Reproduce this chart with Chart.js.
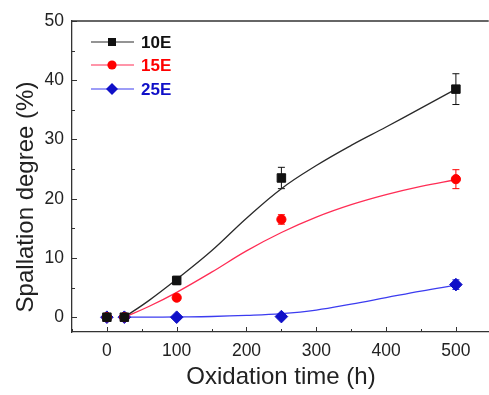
<!DOCTYPE html>
<html>
<head>
<meta charset="utf-8">
<script src="https://cdn.jsdelivr.net/npm/chart.js@4.4.1/dist/chart.umd.min.js"></script>
<style>
html,body{margin:0;padding:0;background:#fff;overflow:hidden;width:489px;height:395px;}
#wrap{position:relative;width:496px;height:395px;}
</style>
</head>
<body>
<div id="wrap"><canvas id="c"></canvas></div>
<script>
// ---- data ----
const times = [0, 25, 100, 250, 500];
const s10E = [0, 0, 6.2, 23.5, 38.5];
const s15E = [0, 0, 3.3, 16.5, 23.3];
const s25E = [0, 0, 0, 0.1, 5.5];
const err10E = [0, 0, 0.7, 1.8, 2.6];
const err15E = [0, 0, 0.5, 0.8, 1.6];
const err25E = [0, 0, 0.3, 0.3, 0.8];
// fitted curves
const fitTimes = [25, 60, 100, 150, 200, 250, 300, 350, 400, 450, 500];
const fit10E = [0, 2.8, 6.4, 11.2, 16.7, 21.7, 25.6, 29.0, 32.1, 35.3, 38.5];
const fit15E = [0, 1.8, 4.2, 7.6, 11.2, 14.3, 16.9, 19.0, 20.7, 22.1, 23.2];
const fit25E = [0, 0, 0.05, 0.12, 0.3, 0.6, 1.2, 2.2, 3.3, 4.4, 5.4];
const xTicks = [-50, 0, 50, 100, 150, 200, 250, 300, 350, 400, 450, 500];
const yTicks = [0, 5, 10, 15, 20, 25, 30, 35, 40, 45, 50];
const seriesNames = ['10E', '15E', '25E'];
const xTitle = 'Oxidation time (h)';
const yTitle = 'Spallation degree (%)';

const colPt = ['#111111', '#ff0000', '#1010c8'];
const colLine = ['#2a2a2a', '#ff2d55', '#3c3cf0'];
const styles = ['rect', 'circle', 'rectRot'];
const radii = [6, 4.6, 6.3];

function pts(xs, ys){ return xs.map((x,i)=>({x:x, y:ys[i]})); }

const ptsSets = [s10E, s15E, s25E];
const fitSets = [fit10E, fit15E, fit25E];
const errSets = [err10E, err15E, err25E];

const datasets = [];
fitSets.forEach((f,i)=>{
  datasets.push({
    label: seriesNames[i] + ' fit', data: pts(fitTimes, f), showLine: true,
    borderColor: colLine[i], borderWidth: 1.3, pointRadius: 0, fill: false,
    tension: 0.4, order: 3
  });
});
ptsSets.forEach((s,i)=>{
  datasets.push({
    label: seriesNames[i], data: pts(times, s), showLine: false,
    pointStyle: styles[i], pointRadius: radii[i], pointBackgroundColor: colPt[i],
    pointBorderColor: colPt[i], pointBorderWidth: 1, order: 1
  });
});

const decor = {
  id: 'decor',
  beforeDatasetsDraw(chart){
    const ctx = chart.ctx, xs = chart.scales.x, ys = chart.scales.y;
    ctx.save();
    errSets.forEach((e,i)=>{
      ctx.strokeStyle = colPt[i]; ctx.lineWidth = 1;
      times.forEach((t,j)=>{
        if (!e[j]) return;
        const px = xs.getPixelForValue(t);
        const top = ys.getPixelForValue(ptsSets[i][j] + e[j]);
        const bot = ys.getPixelForValue(ptsSets[i][j] - e[j]);
        ctx.beginPath();
        ctx.moveTo(px, top); ctx.lineTo(px, bot);
        ctx.moveTo(px-3.5, top); ctx.lineTo(px+3.5, top);
        ctx.moveTo(px-3.5, bot); ctx.lineTo(px+3.5, bot);
        ctx.stroke();
      });
    });
    ctx.restore();
  },
  afterDraw(chart){
    const ctx = chart.ctx, xs = chart.scales.x, ys = chart.scales.y, a = chart.chartArea;
    ctx.save();
    ctx.strokeStyle = '#333'; ctx.lineWidth = 1.3;
    ctx.beginPath(); ctx.moveTo(a.left, a.top); ctx.lineTo(a.right, a.top); ctx.stroke();
    ctx.lineWidth = 1;
    xTicks.forEach(v=>{
      const px = Math.round(xs.getPixelForValue(v)) + 0.5;
      const len = (v % 100 === 0) ? 5 : 3;
      ctx.beginPath(); ctx.moveTo(px, a.bottom); ctx.lineTo(px, a.bottom - len); ctx.stroke();
    });
    yTicks.forEach(v=>{
      const py = Math.round(ys.getPixelForValue(v)) + 0.5;
      const len = (v % 10 === 0) ? 5 : 3;
      ctx.beginPath(); ctx.moveTo(a.left, py); ctx.lineTo(a.left + len, py); ctx.stroke();
    });
    ctx.fillStyle = '#222';
    ctx.font = '24px "Liberation Sans", Arial, sans-serif';
    ctx.textAlign = 'center'; ctx.textBaseline = 'alphabetic';
    ctx.fillText(xTitle, 281, 384);
    ctx.translate(33, 197); ctx.rotate(-Math.PI/2);
    ctx.fillText(yTitle, 0, 0);
    ctx.setTransform(1,0,0,1,0,0);
    const rows = [42, 65, 89];
    ctx.font = 'bold 17px "Liberation Sans", Arial, sans-serif';
    ctx.textAlign = 'left'; ctx.textBaseline = 'middle';
    seriesNames.forEach((n,i)=>{
      const y = rows[i];
      ctx.strokeStyle = colLine[i]; ctx.lineWidth = 1.2;
      ctx.beginPath(); ctx.moveTo(91, y); ctx.lineTo(134, y); ctx.stroke();
      ctx.fillStyle = colPt[i];
      const cx = 112;
      ctx.beginPath();
      if (styles[i] === 'rect') ctx.rect(cx-4, y-4, 8, 8);
      else if (styles[i] === 'circle') ctx.arc(cx, y, 4.6, 0, Math.PI*2);
      else { ctx.moveTo(cx, y-6); ctx.lineTo(cx+6, y); ctx.lineTo(cx, y+6); ctx.lineTo(cx-6, y); ctx.closePath(); }
      ctx.fill();
      ctx.fillText(n, 141, y + 1);
    });
    ctx.restore();
  }
};

new Chart(document.getElementById('c'), {
  type: 'scatter',
  data: { datasets },
  plugins: [decor],
  options: {
    responsive: true, maintainAspectRatio: false, animation: false,
    layout: { padding: { top: 21, right: 0, left: 0, bottom: 0 } },
    plugins: { legend: { display: false }, tooltip: { enabled: false } },
    scales: {
      x: {
        type: 'linear', min: -50, max: 547,
        afterBuildTicks(s){ s.ticks = xTicks.map(v=>({value:v})); },
        afterFit(s){ s.height = 63; s.paddingLeft = 0; s.paddingRight = 0; },
        grid: { display: false, drawTicks: false },
        border: { display: true, color: '#333', width: 1.3 },
        ticks: {
          padding: 9, color: '#222', maxRotation: 0, autoSkip: false,
          font: { family: '"Liberation Sans", Arial, sans-serif', size: 17.5 },
          callback: v => (v >= 0 && v % 100 === 0) ? String(v) : ''
        }
      },
      y: {
        type: 'linear', min: -2.5, max: 50,
        afterBuildTicks(s){ s.ticks = yTicks.map(v=>({value:v})); },
        afterFit(s){ s.width = 72; s.paddingTop = 0; s.paddingBottom = 0; },
        grid: { display: false, drawTicks: false },
        border: { display: true, color: '#333', width: 1.3 },
        ticks: {
          padding: 8, color: '#222', autoSkip: false,
          font: { family: '"Liberation Sans", Arial, sans-serif', size: 17.5 },
          callback: v => (v % 10 === 0) ? String(v) : ''
        }
      }
    }
  }
});
</script>
</body>
</html>
